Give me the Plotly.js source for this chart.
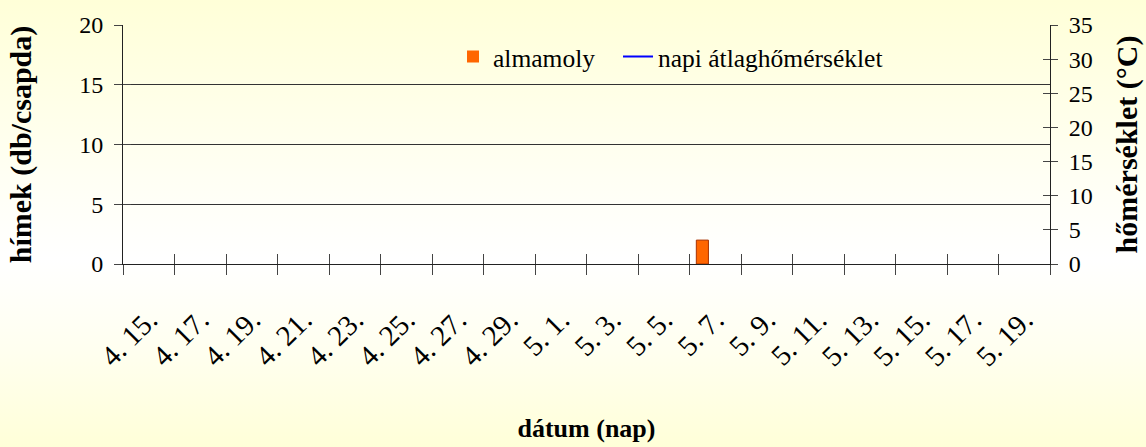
<!DOCTYPE html>
<html><head><meta charset="utf-8">
<script src="https://cdn.plot.ly/plotly-3.0.1.min.js"></script>
<style>
html,body{margin:0;padding:0;background:#FFFFE0;}
#chart{width:1146px;height:447px;background:linear-gradient(to bottom,#FFFFD8 0%,#FFFFF4 40%,#FFFFFF 58%,#FFFFF0 78%,#FFFFD8 100%);}
</style></head><body><div id="chart"></div>
<script>
const dates = ["4. 15.","4. 16.","4. 17.","4. 18.","4. 19.","4. 20.","4. 21.","4. 22.","4. 23.","4. 24.","4. 25.","4. 26.","4. 27.","4. 28.","4. 29.","4. 30.",
  "5. 1.","5. 2.","5. 3.","5. 4.","5. 5.","5. 6.","5. 7.","5. 8.","5. 9.","5. 10.","5. 11.","5. 12.","5. 13.","5. 14.","5. 15.","5. 16.","5. 17.","5. 18.","5. 19.","5. 20."];
const almamoly = [0,0,0,0,0,0,0,0,0,0,0,0,0,0,0,0,
  0,0,0,0,0,0,2,0,0,0,0,0,0,0,0,0,0,0,0,0];
const temperature = [null,null,null,null,null,null,null,null,null,null,null,null,null,null,null,null,
  null,null,null,null,null,null,null,null,null,null,null,null,null,null,null,null,null,null,null,null];
const tickLabels = ["4. 15.","4. 17.","4. 19.","4. 21.","4. 23.","4. 25.","4. 27.","4. 29.","5. 1.","5. 3.","5. 5.","5. 7.","5. 9.","5. 11.","5. 13.","5. 15.","5. 17.","5. 19."];
const leftTicks = [0,5,10,15,20];
const rightTicks = [0,5,10,15,20,25,30,35];

const n = dates.length;
const xRange = [-0.5, n - 0.5];
const labelPos = tickLabels.map(l => dates.indexOf(l) + 0.5);
const boundaryPos = [];
for (let i = 0; i <= n; i += 2) boundaryPos.push(i - 0.5);

const FONT = 'Liberation Serif, Times New Roman, serif';
const LINE = '#222';
const TICK = '#444';
const LEGEND_FONT = {family:FONT, size:25.5, color:'#000'};

const traces = [
  {type:'bar', name:'almamoly', x:dates, y:almamoly, xaxis:'x', yaxis:'y', width:0.47, legend:'legend',
   marker:{color:'#FF6600', line:{color:'#A83200', width:almamoly.map(v => v > 0 ? 1 : 0)}}, hoverinfo:'skip'},
  {type:'scatter', mode:'lines', name:'napi átlaghőmérséklet', x:dates, y:temperature, xaxis:'x', yaxis:'y2', legend:'legend2',
   line:{color:'#0000FF', width:2}, connectgaps:false, hoverinfo:'skip'}
];
// empty helper traces so the tick-only overlay axes get drawn
[['x2','y'],['x3','y'],['x4','y'],['x','y3'],['x','y4']].forEach(([xa, ya]) => {
  traces.push({type:'scatter', mode:'markers', x:[null], y:[null], xaxis:xa, yaxis:ya,
    showlegend:false, hoverinfo:'skip'});
});

const overlayX = (extra) => Object.assign({overlaying:'x', anchor:'y', type:'linear', range:xRange,
  showgrid:false, zeroline:false, showline:false, fixedrange:true}, extra);
const overlayY = (extra) => Object.assign({overlaying:'y', anchor:'x', showgrid:false, zeroline:false,
  showline:false, fixedrange:true}, extra);

const layout = {
  width:1146, height:447,
  margin:{l:123, r:96, t:25, b:183, pad:0},
  paper_bgcolor:'rgba(0,0,0,0)', plot_bgcolor:'rgba(0,0,0,0)',
  font:{family:FONT, color:'#000', size:24},
  showlegend:true,
  barmode:'group',
  legend:{orientation:'h', x:0.356, xanchor:'left', y:0.866, yanchor:'middle',
    bgcolor:'rgba(0,0,0,0)', font:LEGEND_FONT},
  legend2:{orientation:'h', x:0.534, xanchor:'left', y:0.866, yanchor:'middle',
    bgcolor:'rgba(0,0,0,0)', font:LEGEND_FONT},
  xaxis:{type:'category', range:xRange, showline:true, linecolor:LINE, linewidth:1,
    ticks:'', showticklabels:false, showgrid:false, zeroline:false, fixedrange:true,
    title:{text:'dátum (nap)', font:{family:FONT, size:26, weight:'bold', color:'#000'}, standoff:154}},
  xaxis2: overlayX({tickmode:'array', tickvals:boundaryPos, ticks:'outside', ticklen:10, tickwidth:1, tickcolor:TICK, showticklabels:false}),
  xaxis3: overlayX({tickmode:'array', tickvals:boundaryPos, ticks:'inside', ticklen:10, tickwidth:1, tickcolor:TICK, showticklabels:false}),
  xaxis4: overlayX({tickmode:'array', tickvals:labelPos, ticktext:tickLabels, ticks:'', tickangle:-45,
    ticklabelstandoff:32, tickfont:{family:FONT, size:29, color:'#000'}}),
  yaxis:{range:[0,20], tickmode:'array', tickvals:leftTicks, ticks:'outside', ticklen:8, tickcolor:TICK,
    showline:true, linecolor:LINE, linewidth:1, showgrid:true, gridcolor:'#333', gridwidth:1, zeroline:false,
    tickfont:{family:FONT, size:24, color:'#000'}, ticklabelstandoff:6, fixedrange:true,
    title:{text:'hímek (db/csapda)', font:{family:FONT, size:30, weight:'bold', color:'#000'}, standoff:38}},
  yaxis3: overlayY({side:'left', range:[0,20], tickmode:'array', tickvals:leftTicks, ticks:'inside', ticklen:8, tickcolor:TICK, showticklabels:false}),
  yaxis2:{overlaying:'y', side:'right', anchor:'x', range:[0,35], tickmode:'array', tickvals:rightTicks,
    ticks:'outside', ticklen:7, tickcolor:TICK, showline:true, linecolor:LINE, linewidth:1,
    showgrid:false, zeroline:false, tickfont:{family:FONT, size:24, color:'#000'}, ticklabelstandoff:6, fixedrange:true,
    title:{text:'hőmérséklet (°C)', font:{family:FONT, size:30, weight:'bold', color:'#000'}, standoff:24}},
  yaxis4: overlayY({side:'right', range:[0,35], tickmode:'array', tickvals:rightTicks, ticks:'inside', ticklen:7, tickcolor:TICK, showticklabels:false})
};

Plotly.newPlot('chart', traces, layout, {displayModeBar:false, staticPlot:true});
</script></body></html>
